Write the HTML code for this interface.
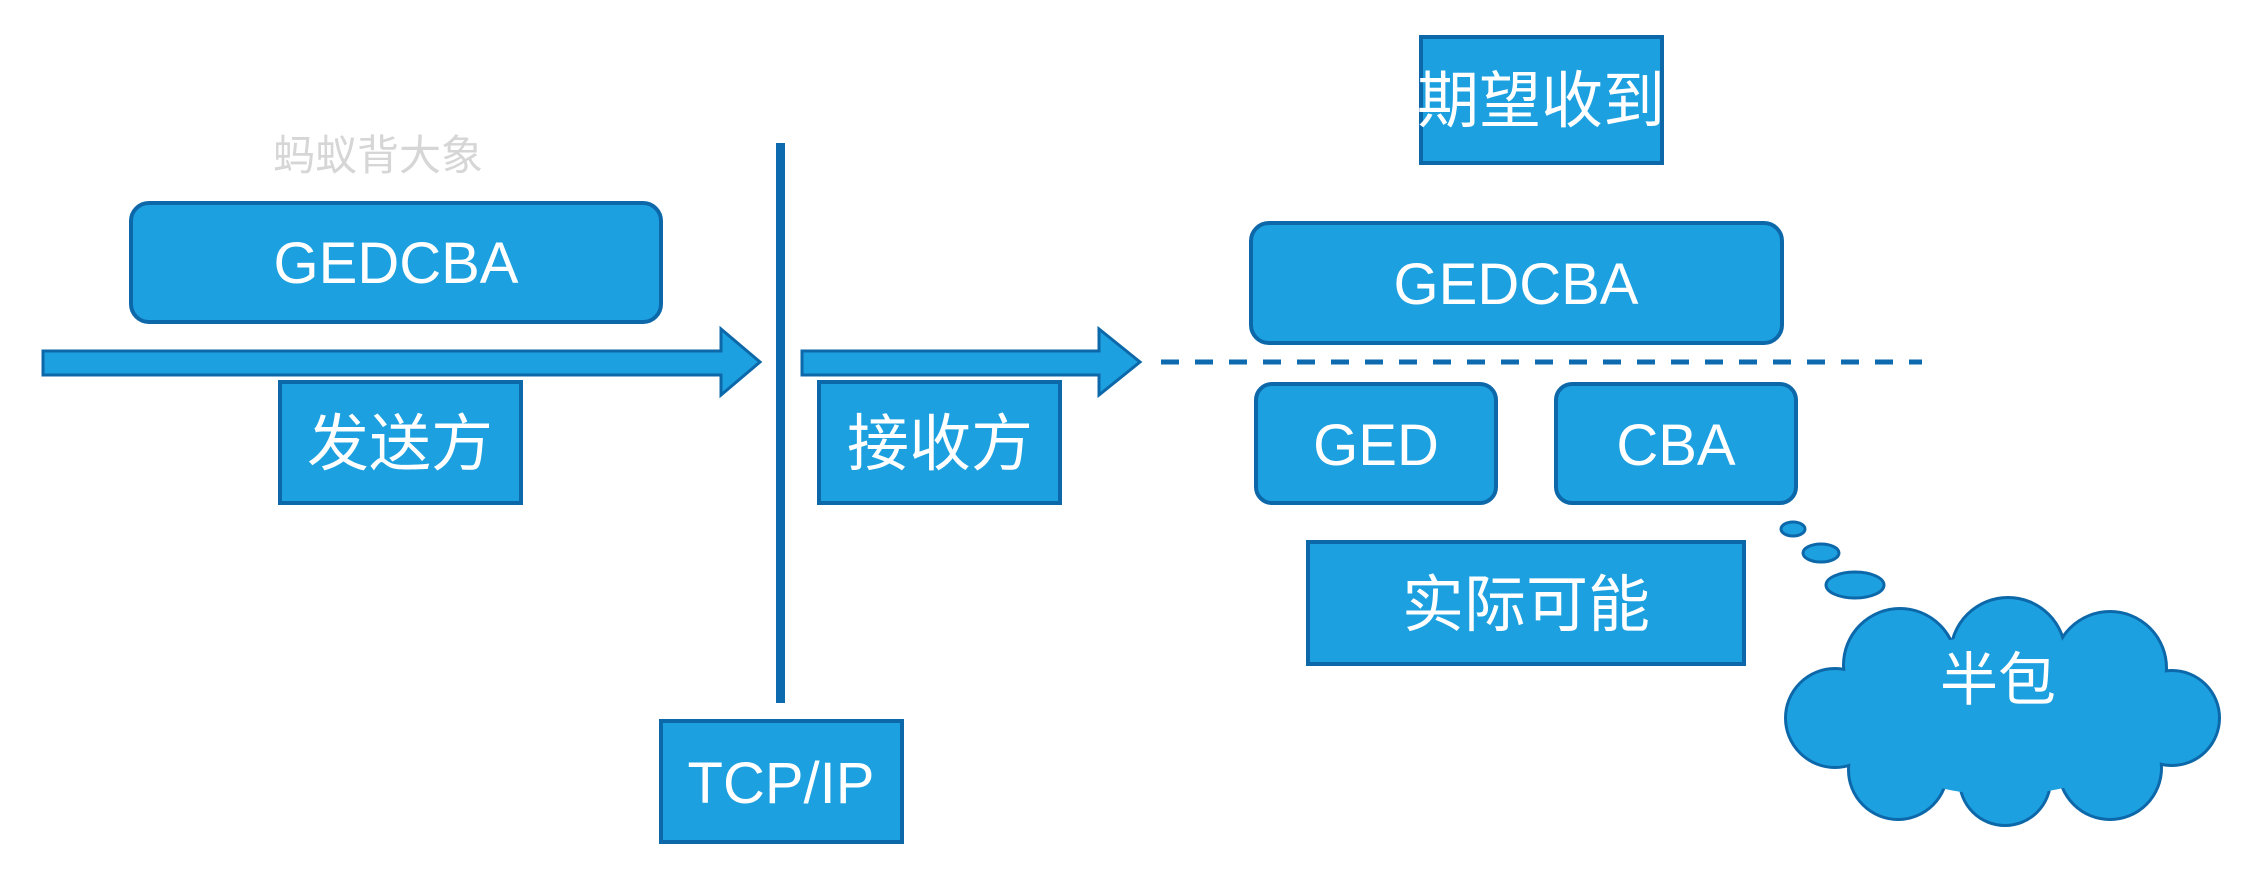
<!DOCTYPE html>
<html><head><meta charset="utf-8"><style>
body{margin:0;background:#fff;}
</style></head><body>
<svg width="2262" height="884" xmlns="http://www.w3.org/2000/svg" style="display:block">
<g font-family="'Liberation Sans','Noto Sans CJK SC',sans-serif" fill="#fff" text-anchor="middle">
<text x="378" y="170" font-size="42" fill="#d6d6d6">蚂蚁背大象</text>

<rect x="131" y="203" width="530" height="119" rx="18" fill="#1ca0e0" stroke="#0d68aa" stroke-width="4"/>
<text x="396" y="283" font-size="58">GEDCBA</text>

<path d="M43,351 H721 V329 L760,362 L721,395 V375 H43 Z" fill="#1ca0e0" stroke="#0d68aa" stroke-width="3"/>
<path d="M802,351 H1099 V329 L1140,362 L1099,395 V375 H802 Z" fill="#1ca0e0" stroke="#0d68aa" stroke-width="3"/>

<rect x="280" y="382" width="241" height="121" fill="#1ca0e0" stroke="#0d68aa" stroke-width="4"/>
<text x="400" y="465" font-size="62">发送方</text>

<rect x="776" y="143" width="9" height="560" fill="#0e6aae"/>

<rect x="661" y="721" width="241" height="121" fill="#1ca0e0" stroke="#0d68aa" stroke-width="4"/>
<text x="781" y="803" font-size="58">TCP/IP</text>

<rect x="819" y="382" width="241" height="121" fill="#1ca0e0" stroke="#0d68aa" stroke-width="4"/>
<text x="940" y="465" font-size="62">接收方</text>

<rect x="1421" y="37" width="241" height="126" fill="#1ca0e0" stroke="#0d68aa" stroke-width="4"/>
<text x="1541" y="122" font-size="62">期望收到</text>

<rect x="1251" y="223" width="531" height="120" rx="18" fill="#1ca0e0" stroke="#0d68aa" stroke-width="4"/>
<text x="1516" y="304" font-size="58">GEDCBA</text>

<line x1="1161" y1="362" x2="1922" y2="362" stroke="#0e6aae" stroke-width="5" stroke-dasharray="18,16"/>

<rect x="1256" y="384" width="240" height="119" rx="16" fill="#1ca0e0" stroke="#0d68aa" stroke-width="4"/>
<text x="1376" y="465" font-size="58">GED</text>
<rect x="1556" y="384" width="240" height="119" rx="16" fill="#1ca0e0" stroke="#0d68aa" stroke-width="4"/>
<text x="1676" y="465" font-size="58">CBA</text>

<rect x="1308" y="542" width="436" height="122" fill="#1ca0e0" stroke="#0d68aa" stroke-width="4"/>
<text x="1526" y="626" font-size="62">实际可能</text>

<ellipse cx="1793" cy="529" rx="12" ry="7" fill="#1ca0e0" stroke="#0d68aa" stroke-width="3"/>
<ellipse cx="1821" cy="553" rx="18" ry="9" fill="#1ca0e0" stroke="#0d68aa" stroke-width="3"/>
<ellipse cx="1855" cy="585" rx="29" ry="13" fill="#1ca0e0" stroke="#0d68aa" stroke-width="3"/>

<g stroke="#0d68aa" stroke-width="6" fill="#1ca0e0">
<circle cx="1835" cy="718" r="48"/>
<circle cx="1900" cy="665" r="55"/>
<circle cx="2008" cy="655" r="56"/>
<circle cx="2110" cy="668" r="55"/>
<circle cx="2172" cy="718" r="46"/>
<circle cx="2110" cy="768" r="50"/>
<circle cx="2005" cy="780" r="44"/>
<circle cx="1898" cy="770" r="48"/>
</g>
<g fill="#1ca0e0">
<circle cx="1835" cy="718" r="48"/>
<circle cx="1900" cy="665" r="55"/>
<circle cx="2008" cy="655" r="56"/>
<circle cx="2110" cy="668" r="55"/>
<circle cx="2172" cy="718" r="46"/>
<circle cx="2110" cy="768" r="50"/>
<circle cx="2005" cy="780" r="44"/>
<circle cx="1898" cy="770" r="48"/>
<ellipse cx="2002" cy="715" rx="150" ry="80"/>
</g>
<text x="1998" y="700" font-size="58">半包</text>
</g>
</svg>
</body></html>
